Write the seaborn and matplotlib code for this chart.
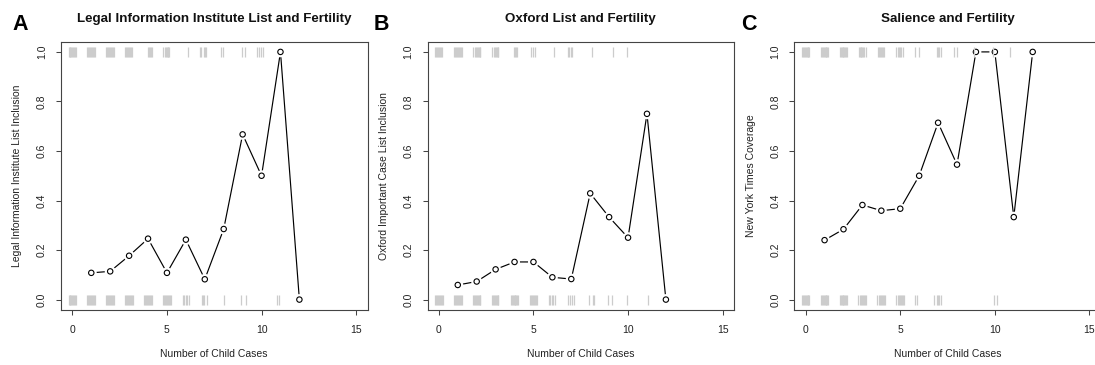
import matplotlib
matplotlib.use("Agg")
import matplotlib.pyplot as plt
import pandas as pd
import seaborn as sns

# ---------------- data ----------------
child_cases = [1, 2, 3, 4, 5, 6, 7, 8, 9, 10, 11, 12]
lii_inclusion = [0.108, 0.114, 0.177, 0.246, 0.108, 0.242, 0.082, 0.285, 0.667, 0.5, 1.0, 0.0]
oxford_inclusion = [0.059, 0.073, 0.122, 0.152, 0.152, 0.09, 0.083, 0.429, 0.333, 0.25, 0.75, 0.0]
nyt_coverage = [0.24, 0.284, 0.382, 0.359, 0.367, 0.5, 0.714, 0.545, 1.0, 1.0, 0.333, 1.0]

# jittered case-level positions (rug) for cases with outcome 1 (top) and 0 (bottom)
lii_rug_top = [-0.2, -0.15, -0.1, -0.05, 0.0, 0.05, 0.1, 0.15, 0.2,
               0.8, 0.85, 0.9, 0.95, 1.0, 1.05, 1.1, 1.15, 1.2,
               1.8, 1.85, 1.9, 1.95, 2.0, 2.05, 2.1, 2.15, 2.2,
               2.8, 2.85, 2.9, 2.95, 3.0, 3.05, 3.1, 3.15,
               4.0, 4.05, 4.1, 4.15, 4.2,
               4.79, 4.88, 4.93, 4.98, 5.03, 5.08, 5.13,
               6.13, 6.75, 6.82, 6.97, 7.03, 7.09, 7.87, 7.98, 8.97, 9.15,
               9.76, 9.87, 9.98, 10.1]
lii_rug_bottom = [-0.2, -0.15, -0.1, -0.05, 0.0, 0.05, 0.1, 0.15, 0.2,
                  0.8, 0.85, 0.9, 0.95, 1.0, 1.05, 1.1, 1.15, 1.2,
                  1.8, 1.85, 1.9, 1.95, 2.0, 2.05, 2.1, 2.15, 2.2,
                  2.8, 2.85, 2.9, 2.95, 3.0, 3.05, 3.1, 3.15, 3.2,
                  3.8, 3.85, 3.9, 3.95, 4.0, 4.05, 4.1, 4.15, 4.2,
                  4.8, 4.85, 4.9, 4.95, 5.0, 5.05, 5.1, 5.15, 5.2,
                  5.83, 5.92, 6.0, 6.08, 6.17, 6.83, 6.9, 6.97, 7.12,
                  8.02, 8.94, 9.17, 10.81, 10.91]

oxford_rug_top = [-0.2, -0.15, -0.1, -0.05, 0.0, 0.05, 0.1, 0.15,
                  0.8, 0.85, 0.9, 0.95, 1.0, 1.05, 1.1, 1.15, 1.2,
                  1.8, 1.9, 1.95, 2.0, 2.05, 2.1, 2.15, 2.2,
                  2.81, 2.9, 2.95, 3.0, 3.05, 3.1, 3.15,
                  3.97, 4.03, 4.08, 4.14,
                  4.85, 4.97, 5.06, 6.09, 6.84, 6.9, 6.96, 7.04,
                  8.12, 9.21, 9.92]
oxford_rug_bottom = [-0.2, -0.15, -0.1, -0.05, 0.0, 0.05, 0.1, 0.15, 0.2,
                     0.8, 0.85, 0.9, 0.95, 1.0, 1.05, 1.1, 1.15, 1.2,
                     1.8, 1.85, 1.9, 1.95, 2.0, 2.05, 2.1, 2.15, 2.2,
                     2.8, 2.85, 2.9, 2.95, 3.0, 3.05, 3.1, 3.15,
                     3.8, 3.85, 3.9, 3.95, 4.0, 4.05, 4.1, 4.15, 4.2,
                     4.83, 4.88, 4.93, 4.98, 5.03, 5.08, 5.13, 5.2,
                     5.83, 5.9, 5.96, 6.04, 6.16, 6.83, 6.92, 7.04, 7.15,
                     7.94, 8.17, 8.22, 8.95, 9.14, 9.97, 11.08]

nyt_rug_top = [-0.2, -0.15, -0.1, -0.05, 0.0, 0.05, 0.1, 0.15, 0.2,
               0.8, 0.85, 0.9, 0.95, 1.0, 1.05, 1.1, 1.15, 1.2,
               1.8, 1.85, 1.9, 1.95, 2.0, 2.05, 2.1, 2.15, 2.2,
               2.8, 2.85, 2.9, 2.95, 3.0, 3.05, 3.1, 3.17,
               3.85, 3.9, 3.95, 4.0, 4.05, 4.1, 4.15,
               4.8, 4.9, 4.95, 5.0, 5.06, 5.12,
               5.8, 5.98, 6.92, 6.98, 7.04, 7.15, 7.82, 8.0,
               8.9, 9.88, 10.82]
nyt_rug_bottom = [-0.2, -0.15, -0.1, -0.05, 0.0, 0.05, 0.1, 0.15, 0.2,
                  0.8, 0.85, 0.9, 0.95, 1.0, 1.05, 1.1, 1.15, 1.2,
                  1.8, 1.85, 1.9, 1.95, 2.0, 2.05, 2.1, 2.15, 2.2,
                  2.77, 2.88, 2.93, 2.98, 3.03, 3.08, 3.13, 3.18,
                  3.78, 3.88, 3.93, 3.98, 4.03, 4.08, 4.13, 4.19,
                  4.78, 4.87, 4.92, 4.97, 5.02, 5.07, 5.12, 5.18,
                  5.8, 5.91, 6.81, 6.93, 7.0, 7.07, 7.16, 9.93, 10.11]

panel_letters = ["A", "B", "C"]
titles = ["Legal Information Institute List and Fertility",
          "Oxford List and Fertility",
          "Salience and Fertility"]
ylabels = ["Legal Information Institute List Inclusion",
           "Oxford Important Case List Inclusion",
           "New York Times Coverage"]
xlabel = "Number of Child Cases"
xticks = [0, 5, 10, 15]
yticks = [0.0, 0.2, 0.4, 0.6, 0.8, 1.0]
ytick_labels = ["0.0", "0.2", "0.4", "0.6", "0.8", "1.0"]

series = [lii_inclusion, oxford_inclusion, nyt_coverage]
rugs_top = [lii_rug_top, oxford_rug_top, nyt_rug_top]
rugs_bottom = [lii_rug_bottom, oxford_rug_bottom, nyt_rug_bottom]

# ---------------- style ----------------
sns.set_style("white")
plt.rcParams['font.family'] = ['Liberation Sans', 'DejaVu Sans']

W, H = 1095, 365
fig = plt.figure(figsize=(W / 100, H / 100), dpi=100)

ax_left_px = [61.0, 427.5, 794.3]
ax_w_px = 306.5
ax_top_px, ax_bot_px = 42.0, 309.5
letter_x_px = [12, 374, 741]

edge_col = "#444444"
rug_col = "#cccccc"

for i in range(3):
    ax = fig.add_axes([ax_left_px[i] / W, 1 - ax_bot_px / H,
                       ax_w_px / W, (ax_bot_px - ax_top_px) / H])
    df = pd.DataFrame({"cases": child_cases, "value": series[i]})

    sns.lineplot(data=df, x="cases", y="value", ax=ax, color="black",
                 linewidth=0.85, zorder=2)
    # white halo to emulate the gap around points
    sns.scatterplot(data=df, x="cases", y="value", ax=ax, s=62,
                    color="white", edgecolor="none", linewidth=0, zorder=3)
    sns.scatterplot(data=df, x="cases", y="value", ax=ax, s=15,
                    facecolor="none", edgecolor="black", linewidth=0.8,
                    zorder=4)

    top = pd.DataFrame({"x": rugs_top[i], "y": [1.0] * len(rugs_top[i])})
    bot = pd.DataFrame({"x": rugs_bottom[i], "y": [0.0] * len(rugs_bottom[i])})
    for rd in (top, bot):
        sns.scatterplot(data=rd, x="x", y="y", ax=ax, marker="|", s=52,
                        color=rug_col, linewidth=0.9, zorder=5)

    ax.set_xlim(-0.6, 15.6)
    ax.set_ylim(-0.04, 1.04)
    ax.set_xticks(xticks)
    ax.set_xticklabels([str(t) for t in xticks])
    ax.set_yticks(yticks)
    ax.set_yticklabels(ytick_labels)
    ax.tick_params(axis="both", which="major", direction="out", length=3.6,
                   width=0.75, color=edge_col, labelsize=7.5,
                   labelcolor="#222222", bottom=True, left=True)
    ax.tick_params(axis="x", pad=7.5)
    ax.tick_params(axis="y", pad=6.5, labelrotation=90)
    for lab in ax.get_yticklabels():
        lab.set_verticalalignment("center")
    for sp in ax.spines.values():
        sp.set_visible(True)
        sp.set_color(edge_col)
        sp.set_linewidth(0.8)

    ax.set_xlabel(xlabel, fontsize=7.5, color="#222222")
    ax.set_ylabel(ylabels[i], fontsize=7.5, color="#222222")
    ax.xaxis.label.set_verticalalignment("center")
    ax.yaxis.label.set_verticalalignment("center")
    ax.xaxis.set_label_coords(0.5, -44.5 / (ax_bot_px - ax_top_px))
    ax.yaxis.set_label_coords(-43.5 / ax_w_px, 0.5)

    cx = (ax_left_px[i] + ax_w_px / 2) / W
    fig.text(cx, 1 - 22 / H, titles[i], ha="center", va="baseline",
             fontsize=9.6, fontweight="bold", color="#111111")
    fig.text(letter_x_px[i] / W, 1 - 30 / H, panel_letters[i], ha="left",
             va="baseline", fontsize=15.5, fontweight="bold", color="black")

fig.savefig("out.png", dpi=100)
